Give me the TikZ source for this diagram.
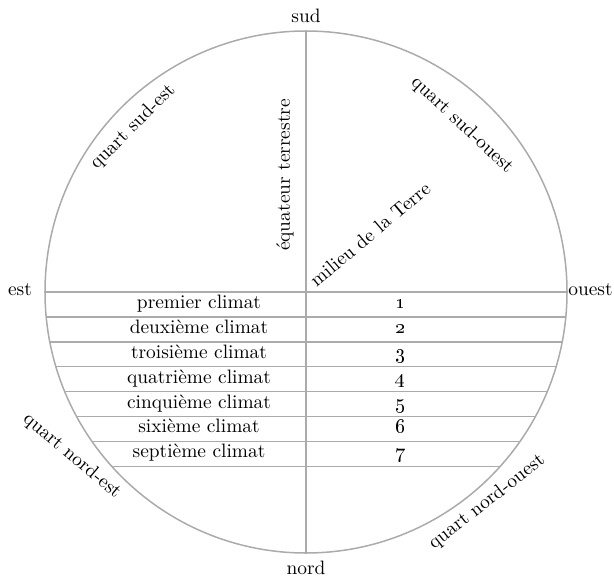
\documentclass[tikz,border=0pt]{standalone}
\usepackage{tikz}
\usetikzlibrary{calc}
\definecolor{Rule}{HTML}{ABABAB}

\begin{document}
\begin{tikzpicture}[x=0.5pt,y=0.5pt,
    rule/.style={Rule,line width=0.75pt},
    lbl/.style={font=\fontsize{9.7}{11}\selectfont,inner sep=0pt},
    band/.style={font=\fontsize{9.7}{11}\selectfont,inner sep=0pt,anchor=base}]
  \useasboundingbox (-306,-291) rectangle (308,292);
  \def\R{261}
  \def\dy{24.9}
  \coordinate (ctr) at (0,0);
  \coordinate (top) at (0,\R);
  \coordinate (bot) at (0,-\R);
  % the round earth and the meridian
  \draw[rule] (ctr) circle[radius=\R];
  \draw[rule] (top) -- (bot);
  % the seven climates
  \foreach \k in {0,...,7}{
    \pgfmathsetmacro{\yy}{-\dy*\k}
    \pgfmathsetmacro{\xx}{\R*sqrt(1-(\yy/\R)^2)}
    \draw[rule] (-\xx,\yy) -- (\xx,\yy);
  }
  \foreach \name [count=\i] in {premier,deuxième,troisième,quatrième,cinquième,sixième,septième}{
    \node[band] (clim\i) at (-107,{-\dy*\i+\dy/2-4}) {\name\ climat};
    \node[band] (num\i) at (94,{-\dy*\i+\dy/2-4}) {\oldstylenums{\i}};
  }
  % cardinal points
  \node[lbl] (sud) at (0,276) {sud};
  \node[lbl] (nord) at (0,-276) {nord};
  \node[lbl] (est) at (-286,2) {est};
  \node[lbl,anchor=east] (ouest) at (307,2) {ouest};
  % quarters
  \node[lbl,rotate=45] (qse) at (-173,165) {quart sud-est};
  \node[lbl,rotate=-43] (qso) at (156,167) {quart sud-ouest};
  \node[lbl,rotate=-40] (qne) at (-234,-164) {quart nord-est};
  \node[lbl,rotate=38] (qno) at (181,-210) {quart nord-ouest};
  \node[lbl,rotate=90] (equ) at (-21,117) {équateur terrestre};
  \node[lbl,rotate=40] (mil) at (64,58) {milieu de la Terre};
\end{tikzpicture}
\end{document}
